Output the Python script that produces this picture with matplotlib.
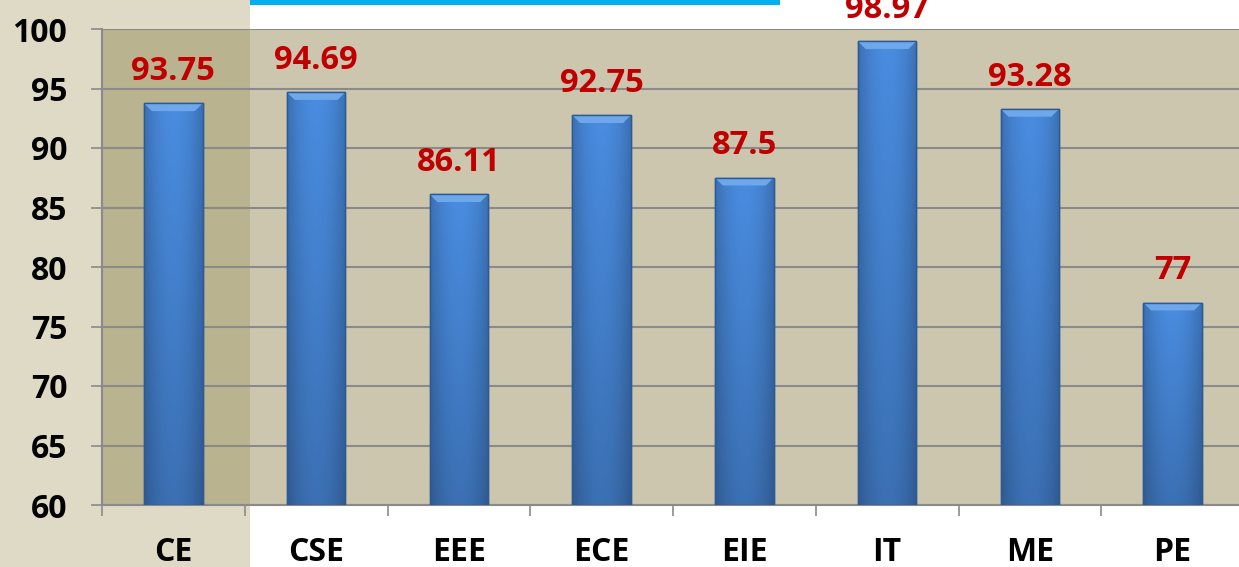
# Bar chart of pass percentages by branch, Excel-slide style
import matplotlib.pyplot as plt
import numpy as np
from matplotlib.patches import Rectangle, Polygon

branches = ['CE', 'CSE', 'EEE', 'ECE', 'EIE', 'IT', 'ME', 'PE']
values = [93.75, 94.69, 86.11, 92.75, 87.5, 98.97, 93.28, 77]
labels = ['93.75', '94.69', '86.11', '92.75', '87.5', '98.97', '93.28', '77']
y_ticks = [60, 65, 70, 75, 80, 85, 90, 95, 100]

plt.rcParams['font.family'] = ['Open Sans', 'DejaVu Sans']
plt.rcParams['font.weight'] = 'bold'

fig = plt.figure(figsize=(12.39, 5.67), dpi=100)
fig.patch.set_facecolor('white')

# slide background strip on the left and the cyan bar on top
fig.add_artist(Rectangle((0, 0), 250 / 1239, 1, transform=fig.transFigure,
                         facecolor='#dedac6', edgecolor='none', zorder=0))
fig.add_artist(Rectangle((250 / 1239, 1 - 5 / 567), 530 / 1239, 5 / 567,
                         transform=fig.transFigure, facecolor='#00b0f0',
                         edgecolor='none', zorder=0))

ax = fig.add_axes([102 / 1239, 62 / 567, 1142 / 1239, 476 / 567])
ax.set_facecolor('#ccc6ae')
ax.add_patch(Rectangle((0, 0), 148 / 1142, 1, transform=ax.transAxes,
                       facecolor='#bab38f', edgecolor='none', zorder=0))

x = np.arange(len(branches))
bw = 0.41
bars = ax.bar(x, [v - 60 for v in values], bw, bottom=60, color='#3d78c6',
              edgecolor='#2c5a96', linewidth=1.0, zorder=3)

# gradient fill for each bar (darker at sides and bottom)
gx = np.linspace(-1, 1, 60)
gy = np.linspace(0, 1, 100)[:, None]
shade = 0.8 + 0.2 * (1 - gx ** 2)[None, :]
shade = shade * (0.8 + 0.2 * gy)
base = np.array([0.29, 0.55, 0.88])
img = np.clip(shade[..., None] * base[None, None, :], 0, 1)
for b, v in zip(bars, values):
    x0 = b.get_x()
    im = ax.imshow(img, extent=[x0, x0 + bw, 60, v], origin='lower',
                   aspect='auto', zorder=3.5, interpolation='bilinear')
    im.set_clip_path(b)
    # bevel on top of the bar
    dx, dy = 0.055, 0.65
    ax.add_patch(Polygon([[x0, v], [x0 + bw, v], [x0 + bw - dx, v - dy],
                          [x0 + dx, v - dy]], closed=True,
                         facecolor='#6fa8ea', edgecolor='none', zorder=4))
    ax.add_patch(Rectangle((x0, 60), bw, v - 60, facecolor='none',
                           edgecolor='#2c5a96', linewidth=1.0, zorder=4.5))

for xi, v, lab in zip(x, values, labels):
    ax.annotate(lab, (xi, v), xytext=(0, 11), textcoords='offset points',
                ha='center', va='bottom', color='#c00000', fontsize=23.5,
                fontweight='bold', annotation_clip=False, zorder=5)

ax.set_xlim(-0.5, len(branches) - 0.5)
ax.set_ylim(60, 100)
ax.set_yticks(y_ticks)
ax.set_yticklabels([str(t) for t in y_ticks], fontweight='bold')
ax.yaxis.grid(True, color='#8a8a8a', linewidth=1.5)
ax.set_axisbelow(True)

ax.set_xticks(x)
ax.set_xticklabels(branches, fontweight='bold')
ax.set_xticks(np.arange(len(branches) + 1) - 0.5, minor=True)
ax.tick_params(axis='x', which='major', length=0, pad=22, labelsize=23)
ax.tick_params(axis='x', which='minor', length=8, color='#8a8a8a', width=1.2)
ax.tick_params(axis='y', length=8, color='#8a8a8a', width=1.2, pad=17,
               labelsize=23)

for s in ['top', 'right']:
    ax.spines[s].set_visible(False)
ax.spines['left'].set_color('#8a8a8a')
ax.spines['bottom'].set_color('#8a8a8a')
ax.spines['left'].set_linewidth(1.5)
ax.spines['bottom'].set_linewidth(1.5)

plt.savefig('out.png', dpi=100, facecolor=fig.get_facecolor())
